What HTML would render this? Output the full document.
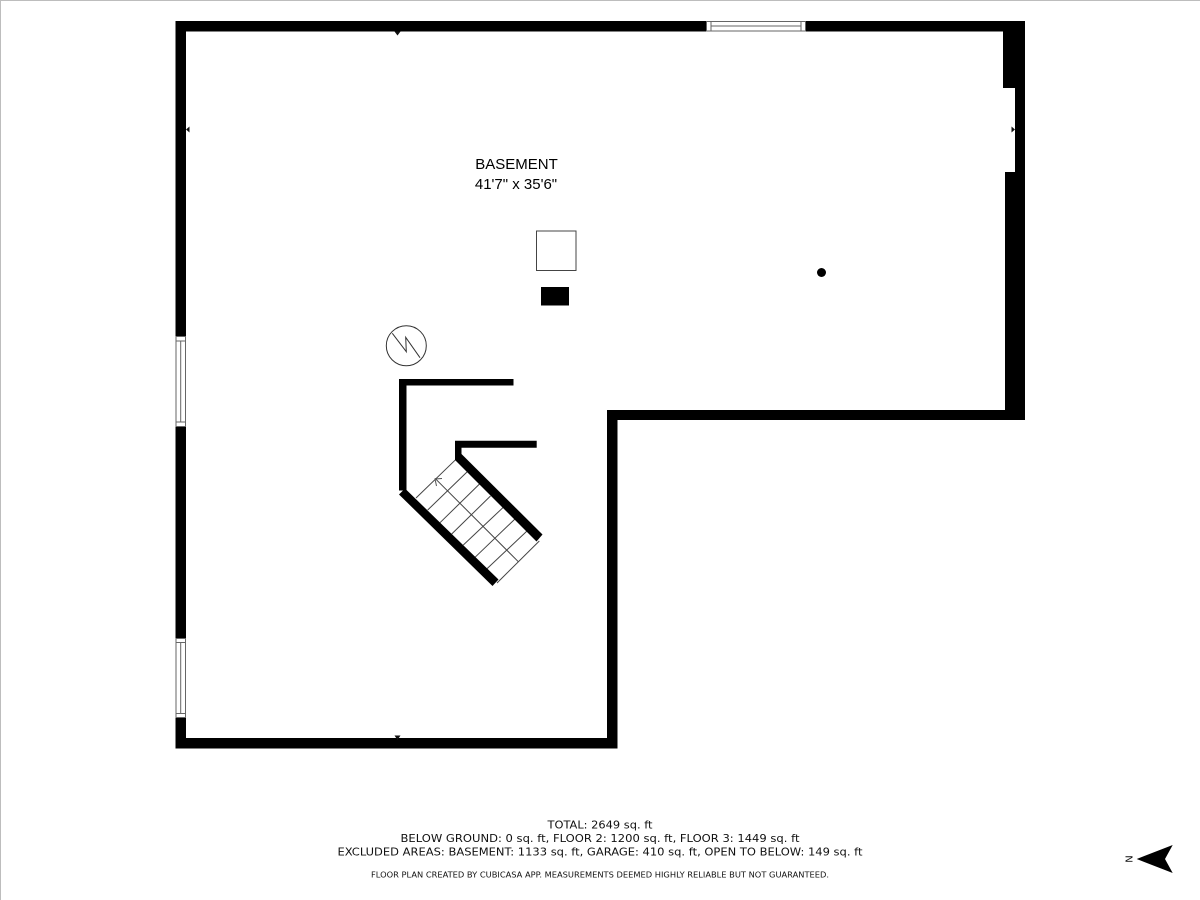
<!DOCTYPE html>
<html>
<head>
<meta charset="utf-8">
<style>
html,body{margin:0;padding:0;background:#fff}
svg{display:block}
.f{font-family:"DejaVu Sans","Liberation Sans",sans-serif;fill:#111}
.a{font-family:"Liberation Sans",sans-serif;fill:#000}
</style>
</head>
<body>
<svg width="1200" height="900" viewBox="0 0 1200 900" xmlns="http://www.w3.org/2000/svg">
<rect width="1200" height="900" fill="#fff"/>
<rect x="0" y="0" width="1200" height="1" fill="#bdbdbd"/>
<rect x="0" y="0" width="1" height="900" fill="#bdbdbd"/>

<!-- walls -->
<path fill-rule="evenodd" fill="#000" d="M175.500 21H1025V420H617.500V748.500H175.500Z M186 31.500V738H607V410H1005V172H1015V88H1003V31.500Z"/>

<!-- top window -->
<rect x="706" y="21" width="100" height="10.500" fill="#fff"/>
<path d="M706.500 21.500H805.500V31H706.500Z M711 21.500V31 M801 21.500V31 M711 26H801" fill="none" stroke="#666" stroke-width="1"/>
<!-- left window 1 -->
<rect x="175.500" y="336" width="10.500" height="91" fill="#fff"/>
<path d="M176 336.500H185.500V426.500H176Z M176 341H185.500 M176 422H185.500 M180.700 341V422" fill="none" stroke="#666" stroke-width="1"/>
<!-- left window 2 -->
<rect x="175.500" y="638" width="10.500" height="80" fill="#fff"/>
<path d="M176 638.500H185.500V717.500H176Z M176 642.500H185.500 M176 713.500H185.500 M180.700 642.500V713.500" fill="none" stroke="#666" stroke-width="1"/>

<!-- dimension ticks -->
<g fill="#111">
<path d="M394.500 31.500H400.500L397.500 35.500Z"/>
<path d="M186 129.500L189.500 126.500V132.500Z"/>
<path d="M1015 129.500L1011.500 126.500V132.500Z"/>
<path d="M394.500 735.500H400.500L397.500 740Z"/>
</g>

<!-- fixtures -->
<rect x="536.500" y="231" width="39.500" height="39.500" fill="none" stroke="#444" stroke-width="1"/>
<rect x="541" y="287" width="28" height="18.500" fill="#000"/>
<circle cx="821.500" cy="272.500" r="4.500" fill="#000"/>
<circle cx="406.300" cy="345.700" r="20" fill="none" stroke="#333" stroke-width="1"/>
<path d="M392.300 333.300L406.300 351.700L405.700 337.300L420 357.700" fill="none" stroke="#333" stroke-width="1"/>

<!-- stair treads -->
<g stroke="#444" stroke-width="1" fill="none">
<path d="M456 459.300L416 498"/>
<path d="M467.500 471.500L427.700 510"/>
<path d="M479.500 484L440 522.700"/>
<path d="M490.500 496L451.700 534"/>
<path d="M503.300 507.300L463.300 545"/>
<path d="M515 519L475 557.300"/>
<path d="M527 531L486.700 569"/>
<path d="M539.300 541L497 583"/>
<path d="M435 478.300L518.300 561.700"/>
<path d="M442 478.500L435 479L436.500 486" stroke="#555"/>
</g>

<!-- stair walls -->
<path fill="#000" d="M399 379H513.500V385.500H406.500V490.500H399Z"/>
<path fill="#000" d="M455 440.700H536.700V447.700H461.500V460H455Z"/>
<path fill="#000" d="M405 488.500L498.500 579.500L492.500 586L399 494.500Z"/>
<path fill="#000" d="M461 453.500L542.500 534.500L536.500 541.500L455 460Z"/>

<!-- labels -->
<text class="a" x="516.500" y="169" font-size="15" text-anchor="middle">BASEMENT</text>
<text class="a" x="516" y="189" font-size="15" text-anchor="middle">41'7" x 35'6"</text>

<text class="f" x="600" y="828.500" font-size="11" text-anchor="middle" textLength="105" lengthAdjust="spacingAndGlyphs">TOTAL: 2649 sq. ft</text>
<text class="f" x="600" y="842" font-size="11" text-anchor="middle" textLength="399" lengthAdjust="spacingAndGlyphs">BELOW GROUND: 0 sq. ft, FLOOR 2: 1200 sq. ft, FLOOR 3: 1449 sq. ft</text>
<text class="f" x="600" y="855.500" font-size="11" text-anchor="middle" textLength="525" lengthAdjust="spacingAndGlyphs">EXCLUDED AREAS: BASEMENT: 1133 sq. ft, GARAGE: 410 sq. ft, OPEN TO BELOW: 149 sq. ft</text>
<text class="f" x="600" y="877.500" font-size="8" text-anchor="middle" textLength="458" lengthAdjust="spacingAndGlyphs">FLOOR PLAN CREATED BY CUBICASA APP. MEASUREMENTS DEEMED HIGHLY RELIABLE BUT NOT GUARANTEED.</text>

<!-- compass -->
<path d="M1136.700 859L1172.700 845L1165 859L1172.700 873Z" fill="#000"/>
<text class="f" transform="translate(1132.500,859) rotate(-90)" font-size="10" text-anchor="middle">N</text>
</svg>
</body>
</html>
